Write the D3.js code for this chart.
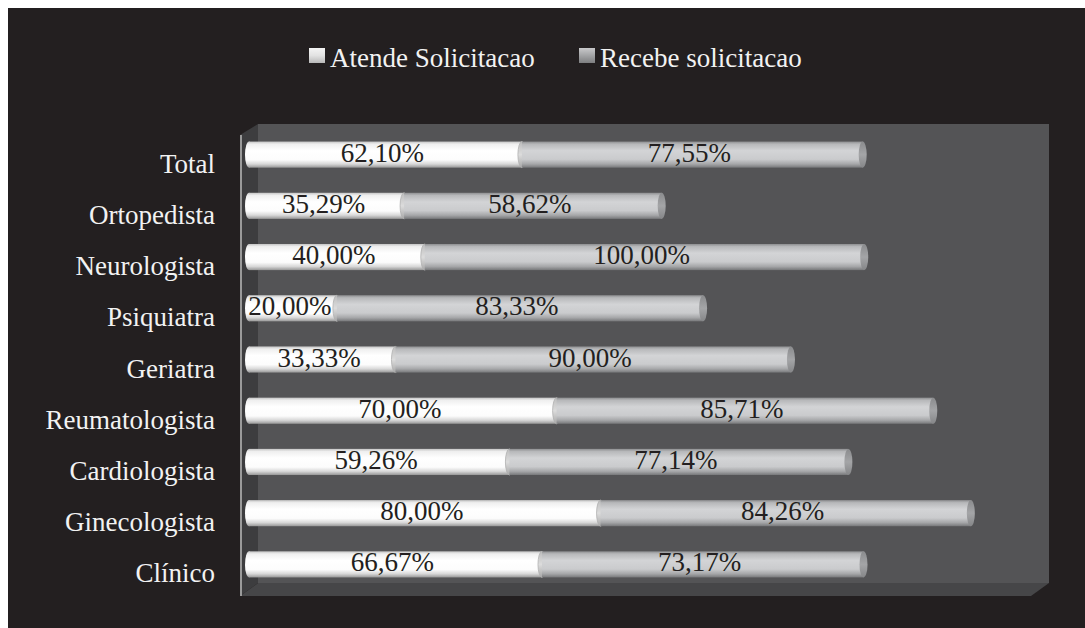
<!DOCTYPE html>
<html lang="pt">
<head>
<meta charset="UTF-8" />
<title>Atende / Recebe solicitacao</title>
<script src="https://d3js.org/d3.v7.min.js"></script>
<style>
  body { margin: 0; background: #ffffff; }
  svg { display: block; }
  text { font-family: "Liberation Serif", "Times New Roman", serif; }
</style>
</head>
<body>
<svg id="chart" width="1085" height="628"></svg>
<script>
// data
const categories = ["Total", "Ortopedista", "Neurologista", "Psiquiatra", "Geriatra",
                    "Reumatologista", "Cardiologista", "Ginecologista", "Clínico"];
const atende = [62.10, 35.29, 40.00, 20.00, 33.33, 70.00, 59.26, 80.00, 66.67];
const recebe = [77.55, 58.62, 100.00, 83.33, 90.00, 85.71, 77.14, 84.26, 73.17];
const seriesNames = ["Atende Solicitacao", "Recebe solicitacao"];

const svg = d3.select("#chart");
const W = 1085, H = 628;

// 3d box: front plane and back plane offset
const front = { left: 240, top: 135, bottom: 596, right: 1031 };
const depth = { dx: 18, dy: -12 };

const x = d3.scaleLinear().domain([0, 180])
  .range([front.left + depth.dx / 2, front.right + depth.dx / 2]);
const y = d3.scaleBand().domain(categories)
  .range([front.top + depth.dy / 2, front.bottom + depth.dy / 2])
  .paddingInner(0.49).paddingOuter(0.245);

// background
svg.append("rect").attr("x", 8).attr("y", 8).attr("width", W - 8).attr("height", H - 8)
  .attr("fill", "#231f20");

const defs = svg.append("defs");
function vGrad(id, stops) {
  const g = defs.append("linearGradient").attr("id", id)
    .attr("x1", 0).attr("y1", 0).attr("x2", 0).attr("y2", 1);
  stops.forEach(s => g.append("stop").attr("offset", s[0]).attr("stop-color", s[1]));
}
vGrad("gWhite", [[0, "#c4c4c4"], [0.1, "#efefef"], [0.35, "#ffffff"], [0.7, "#fcfcfc"], [0.86, "#d8d8d8"], [1, "#979797"]]);
vGrad("gGray", [[0, "#8d8e90"], [0.1, "#b7b8ba"], [0.35, "#d3d4d6"], [0.68, "#cacbcd"], [0.86, "#a6a7a9"], [1, "#77787a"]]);
vGrad("gCapW", [[0, "#bdbdbd"], [0.5, "#dcdcdc"], [1, "#a8a8a8"]]);
vGrad("gCapG", [[0, "#8a8b8d"], [0.5, "#a4a5a7"], [1, "#858688"]]);
vGrad("gLeg1", [[0, "#f4f4f4"], [0.5, "#e2e2e2"], [1, "#b8b8b8"]]);
vGrad("gLeg2", [[0, "#c9c9cb"], [0.5, "#a3a4a6"], [1, "#7d7e80"]]);

// walls
const backL = front.left + depth.dx, backR = front.right + depth.dx;
const backT = front.top + depth.dy + 1, backB = front.bottom + depth.dy - 1;
svg.append("rect").attr("x", backL).attr("y", backT)
  .attr("width", backR - backL).attr("height", backB - backT).attr("fill", "#545456");
svg.append("polygon")
  .attr("points", [[backL, backB], [backR, backB], [front.right, front.bottom], [front.left, front.bottom]].join(" "))
  .attr("fill", "#464648");
svg.append("polygon")
  .attr("points", [[front.left, front.top], [backL, backT], [backL, backB], [front.left, front.bottom]].join(" "))
  .attr("fill", "#3d3d3f");
svg.append("line").attr("x1", front.left + 1).attr("x2", front.left + 1)
  .attr("y1", front.top).attr("y2", front.bottom)
  .attr("stroke", "#9a9a9a").attr("stroke-width", 2);

// cylinders
const bw = y.bandwidth(), rx = 4;
const bars = svg.append("g").selectAll("g").data(categories).join("g");
bars.each(function (c, i) {
  const g = d3.select(this);
  const y0 = y(c), cy = y0 + bw / 2;
  const x0 = x(0), x1 = x(atende[i]), x2 = x(atende[i] + recebe[i]);
  g.append("rect").attr("x", x0).attr("y", y0).attr("width", x1 - x0).attr("height", bw).attr("fill", "url(#gWhite)");
  g.append("ellipse").attr("cx", x0).attr("cy", cy).attr("rx", rx).attr("ry", bw / 2).attr("fill", "url(#gWhite)");
  g.append("ellipse").attr("cx", x1).attr("cy", cy).attr("rx", rx).attr("ry", bw / 2)
    .attr("fill", "url(#gCapW)").attr("stroke", "#b0b0b0").attr("stroke-width", 0.8);
  g.append("rect").attr("x", x1).attr("y", y0).attr("width", x2 - x1).attr("height", bw).attr("fill", "url(#gGray)");
  g.append("ellipse").attr("cx", x2).attr("cy", cy).attr("rx", rx).attr("ry", bw / 2).attr("fill", "url(#gCapG)");
});

// value labels
const fmt = v => d3.format(".2f")(v).replace(".", ",") + "%";
const labels = svg.append("g").attr("font-size", 27).attr("fill", "#231f20").attr("text-anchor", "middle");
categories.forEach((c, i) => {
  const cy = y(c) + bw / 2 + 7;
  labels.append("text").attr("x", (x(0) + x(atende[i])) / 2 - 3).attr("y", cy).text(fmt(atende[i]));
  labels.append("text").attr("x", (x(atende[i]) + x(atende[i] + recebe[i])) / 2 - 3).attr("y", cy).text(fmt(recebe[i]));
});

// category axis labels
svg.append("g").attr("font-size", 27).attr("fill", "#f2f2f2").attr("text-anchor", "end")
  .selectAll("text").data(categories).join("text")
  .attr("x", 215).attr("y", d => y(d) + bw / 2 + 18).text(d => d);

// legend
const legend = svg.append("g").attr("font-size", 27).attr("fill", "#f2f2f2");
const legX = [309, 579];
seriesNames.forEach((s, i) => {
  legend.append("rect").attr("x", legX[i]).attr("y", 48).attr("width", 16).attr("height", 15)
    .attr("fill", `url(#gLeg${i + 1})`);
  legend.append("text").attr("x", legX[i] + 21).attr("y", 67).text(s);
});
</script>
</body>
</html>
